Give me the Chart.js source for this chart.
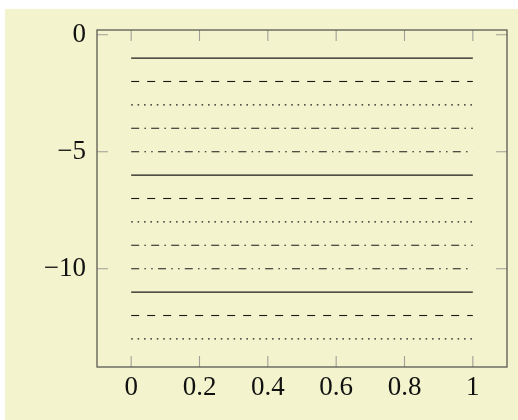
<!DOCTYPE html>
<html><head><meta charset="utf-8">
<script src="https://cdn.jsdelivr.net/npm/chart.js@4"></script>
<style>html,body{margin:0;padding:0;background:#fff;}#wrap{width:518px;height:420px;}</style>
</head><body><div id="wrap"><canvas id="c" width="518" height="420"></canvas></div>
<script>
const lineYValues = [-1,-2,-3,-4,-5,-6,-7,-8,-9,-10,-11,-12,-13];
const lineStyles = ['solid','dashed','dotted','dashdot','dashdotdot','solid','dashed','dotted','dashdot','dashdotdot','solid','dashed','dotted'];
const xRange = [0, 1];
const xTickValues = [0, 0.2, 0.4, 0.6, 0.8, 1];
const yTickValues = [0, -5, -10];

const dashMap = {
  solid: [],
  dashed: [8, 8],
  dotted: [1.6, 4.8],
  dashdot: [8, 5.2, 1.6, 5.2],
  dashdotdot: [8, 5.2, 1.6, 5.2, 1.6, 5.2]
};

const datasets = lineYValues.map((y, i) => ({
  data: xRange.map(x => ({x: x, y: y})),
  borderColor: '#1a1a1a',
  borderWidth: 1.1,
  borderDash: dashMap[lineStyles[i]],
  borderCapStyle: 'butt',
  pointRadius: 0,
  showLine: true,
  fill: false
}));

const bgPlugin = {
  id: 'bg',
  beforeDraw(chart) {
    const ctx = chart.ctx;
    ctx.save();
    ctx.fillStyle = '#f3f3cd';
    ctx.fillRect(5, 9, 513, 411);
    ctx.restore();
  }
};

const framePlugin = {
  id: 'frame',
  afterDatasetsDraw(chart) {
    const ctx = chart.ctx;
    const a = chart.chartArea;
    const xs = chart.scales.x, ys = chart.scales.y;
    const tl = 11;
    ctx.save();
    ctx.strokeStyle = '#a0a098';
    ctx.lineWidth = 1.1;
    ctx.beginPath();
    xTickValues.forEach(v => {
      const px = xs.getPixelForValue(v);
      ctx.moveTo(px, a.bottom); ctx.lineTo(px, a.bottom - tl);
      ctx.moveTo(px, a.top); ctx.lineTo(px, a.top + tl);
    });
    yTickValues.forEach(v => {
      const py = ys.getPixelForValue(v);
      ctx.moveTo(a.left, py); ctx.lineTo(a.left + tl, py);
      ctx.moveTo(a.right, py); ctx.lineTo(a.right - tl, py);
    });
    ctx.stroke();
    ctx.strokeStyle = '#5a5a52';
    ctx.lineWidth = 1.3;
    ctx.strokeRect(a.left, a.top, a.right - a.left, a.bottom - a.top);
    ctx.restore();
  }
};

const fontSpec = {family: '"Liberation Serif", "DejaVu Serif", serif', size: 27};

new Chart(document.getElementById('c'), {
  type: 'scatter',
  data: {datasets: datasets},
  options: {
    responsive: false,
    animation: false,
    devicePixelRatio: 1,
    layout: {padding: {left: 0, right: 11, top: 30, bottom: 0}},
    plugins: {legend: {display: false}, tooltip: {enabled: false}},
    scales: {
      x: {
        type: 'linear', min: -0.1, max: 1.1,
        grid: {display: false, drawTicks: false},
        border: {display: false},
        afterBuildTicks(s) { s.ticks = xTickValues.map(v => ({value: v})); },
        afterFit(s) { s.height = 53; },
        ticks: {
          font: fontSpec, color: '#111', padding: 5, maxRotation: 0,
          callback: v => String(v)
        }
      },
      y: {
        type: 'linear', min: -14.2, max: 0.2,
        grid: {display: false, drawTicks: false},
        border: {display: false},
        afterBuildTicks(s) { s.ticks = yTickValues.map(v => ({value: v})); },
        afterFit(s) { s.width = 97; },
        ticks: {
          font: fontSpec, color: '#111', padding: 11,
          callback: v => (v < 0 ? '\u2212' + Math.abs(v) : String(v))
        }
      }
    }
  },
  plugins: [bgPlugin, framePlugin]
});
</script>
</body></html>
